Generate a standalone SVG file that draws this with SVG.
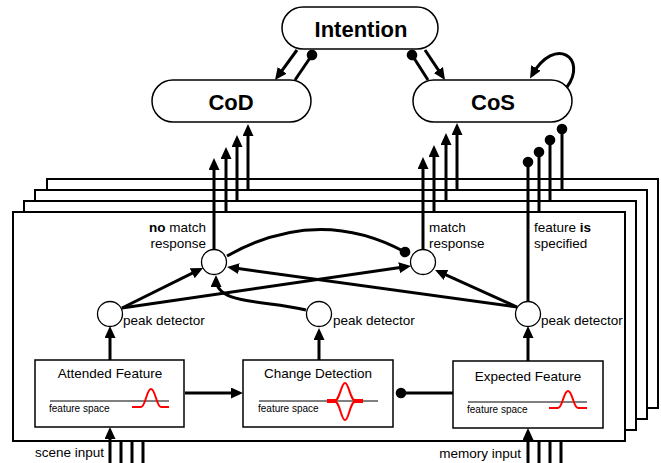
<svg xmlns="http://www.w3.org/2000/svg" width="661" height="463" viewBox="0 0 661 463">
<defs>
<marker id="arr" markerUnits="userSpaceOnUse" markerWidth="14" markerHeight="12" refX="8" refY="5.5" orient="auto"><path d="M0,0 L12,5.5 L0,11 z" fill="#000"/></marker>
<marker id="dot" markerUnits="userSpaceOnUse" markerWidth="12" markerHeight="12" refX="6" refY="6" orient="auto"><circle cx="6" cy="6" r="5.3" fill="#000"/></marker>
<style>
.panel{fill:#fff;stroke:#000;stroke-width:2}
.node{fill:#fff;stroke:#000;stroke-width:1.5}
.box{fill:#fff;stroke:#000;stroke-width:1.5}
.circ{fill:#fff;stroke:#000;stroke-width:1.3}
.c{fill:none;stroke:#000;stroke-width:3}
.a{marker-end:url(#arr)}
.d{marker-end:url(#dot)}
.big{font-family:"Liberation Sans",Arial,sans-serif;font-size:22px;font-weight:bold;text-anchor:middle}
.t{font-family:"Liberation Sans",Arial,sans-serif;font-size:13.5px}
.s{font-family:"Liberation Sans",Arial,sans-serif;font-size:10px}
.red{fill:none;stroke:#f00;stroke-width:2}
.thin{stroke:#000;stroke-width:1}
</style>
</defs>

<g id="panel3"><rect class="panel" x="47" y="179" width="611" height="229"/></g>
<g id="panel2"><rect class="panel" x="35" y="190" width="612" height="229"/></g>
<g id="panel1"><rect class="panel" x="24" y="201" width="612" height="229"/></g>
<g id="panel0"><rect class="panel" x="13" y="212" width="612" height="229"/></g>

<g id="intention"><rect class="node" x="282" y="7" width="156" height="42" rx="21"/><text class="big" x="361" y="37">Intention</text></g>
<g id="cod"><rect class="node" x="152" y="80" width="159" height="42" rx="21"/><text class="big" x="231" y="110">CoD</text></g>
<g id="cos"><rect class="node" x="413" y="80" width="159" height="42" rx="21"/><text class="big" x="493" y="110">CoS</text></g>

<g id="nomatch"><circle class="circ" cx="214" cy="262" r="12.5"/>
<text class="t" x="206" y="232" text-anchor="end"><tspan font-weight="bold">no</tspan> match</text>
<text class="t" x="206" y="248" text-anchor="end">response</text></g>
<g id="match"><circle class="circ" cx="423" cy="262" r="12.5"/>
<text class="t" x="429" y="232">match</text>
<text class="t" x="429" y="248">response</text></g>
<g id="specified"><text class="t" x="534" y="232">feature <tspan font-weight="bold">is</tspan></text>
<text class="t" x="534" y="248">specified</text></g>

<g id="peak1"><circle class="circ" cx="110" cy="314" r="12.5"/><text class="t" x="123" y="325">peak detector</text></g>
<g id="peak2"><circle class="circ" cx="319" cy="314" r="12.5"/><text class="t" x="333" y="325">peak detector</text></g>
<g id="peak3"><circle class="circ" cx="528" cy="314" r="12.5"/><text class="t" x="541" y="325">peak detector</text></g>

<g id="attended"><rect class="box" x="35" y="360" width="149" height="67"/>
<text class="t" x="110" y="378" text-anchor="middle">Attended Feature</text>
<line class="thin" x1="50" y1="401" x2="169" y2="401"/>
<text class="s" x="49" y="412">feature space</text>
<path class="red" d="M132 407 L141 407 C145.5 407 146.5 389 151 389 C155.5 389 156.5 407 161 407 L169 407"/></g>

<g id="change"><rect class="box" x="243" y="360" width="150" height="67"/>
<text class="t" x="318" y="378" text-anchor="middle">Change Detection</text>
<line class="thin" x1="259" y1="401" x2="378" y2="401"/>
<text class="s" x="258" y="412">feature space</text>
<path d="M327 401 L336 401 M354 401 L363 401" stroke="#f00" stroke-width="4" fill="none"/>
<path class="red" d="M334 401 C340 401 341 383 345 383 C349 383 350 401 356 401"/>
<path class="red" d="M334 401 C340 401 341 420 345 420 C349 420 350 401 356 401"/></g>

<g id="expected"><rect class="box" x="453" y="361" width="150" height="67"/>
<text class="t" x="528" y="381" text-anchor="middle">Expected Feature</text>
<line class="thin" x1="468" y1="402" x2="587" y2="402"/>
<text class="s" x="467" y="413">feature space</text>
<path class="red" d="M549 408 L558 408 C562.5 408 563.5 391 568 391 C572.5 391 573.5 408 578 408 L587 408"/></g>

<g id="labels">
<text class="t" x="104" y="457" text-anchor="end">scene input</text>
<text class="t" x="521" y="458" text-anchor="end">memory input</text>
</g>

<g id="connectors">
<line class="c a" x1="297" y1="50" x2="277.4" y2="76.8"/>
<line class="c d" x1="295" y1="80" x2="312" y2="55"/>
<line class="c a" x1="425" y1="50" x2="442.8" y2="76.7"/>
<line class="c d" x1="428" y1="80" x2="412" y2="55"/>
<path class="c a" d="M567 87 C588 58 555 35 532 75"/>

<line class="c a" x1="214" y1="249" x2="214" y2="162"/>
<line class="c a" x1="226" y1="212" x2="226" y2="151"/>
<line class="c a" x1="237" y1="201" x2="237" y2="139"/>
<line class="c a" x1="248" y1="190" x2="248" y2="128"/>

<line class="c a" x1="423" y1="249" x2="423" y2="161"/>
<line class="c a" x1="434" y1="212" x2="434" y2="149"/>
<line class="c a" x1="446" y1="201" x2="446" y2="137"/>
<line class="c a" x1="457" y1="190" x2="457" y2="127"/>

<line class="c d" x1="528" y1="301" x2="528" y2="162"/>
<line class="c d" x1="539" y1="212" x2="539" y2="152"/>
<line class="c d" x1="550" y1="201" x2="550" y2="140"/>
<line class="c d" x1="562" y1="190" x2="562" y2="129"/>

<line class="c a" x1="122" y1="308" x2="199.4" y2="269.7"/>
<line class="c a" x1="122" y1="308" x2="407" y2="266.6"/>
<line class="c a" x1="517" y1="307" x2="231" y2="267.5"/>
<line class="c a" x1="517" y1="307" x2="438.7" y2="271.6"/>
<path class="c a" d="M306 310 C265 300 216 305 216 279"/>
<path class="c d" d="M227 256 Q318 205 405 252"/>

<line class="c a" x1="110" y1="360" x2="110" y2="330"/>
<line class="c a" x1="319" y1="360" x2="319" y2="332"/>
<line class="c a" x1="528" y1="361" x2="528" y2="330"/>

<line class="c a" x1="185" y1="393" x2="239" y2="393"/>
<line class="c d" x1="453" y1="393" x2="401" y2="393"/>

<line class="c a" x1="110" y1="463" x2="110" y2="431"/>
<line class="c" x1="121" y1="463" x2="121" y2="441"/>
<line class="c" x1="132" y1="463" x2="132" y2="441"/>
<line class="c" x1="143" y1="463" x2="143" y2="441"/>
<line class="c a" x1="528" y1="463" x2="528" y2="432"/>
<line class="c" x1="539" y1="463" x2="539" y2="441"/>
<line class="c" x1="550" y1="463" x2="550" y2="441"/>
<line class="c" x1="561" y1="463" x2="561" y2="441"/>
</g>
</svg>
